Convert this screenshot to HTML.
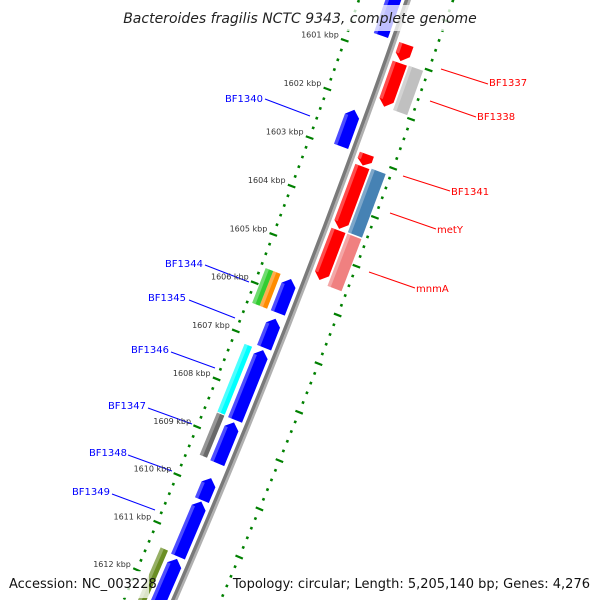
<!DOCTYPE html>
<html><head><meta charset="utf-8">
<style>
html,body{margin:0;padding:0;background:#fff;width:600px;height:600px;overflow:hidden;}
svg{display:block;font-family:"DejaVu Sans","Liberation Sans",sans-serif;overflow:hidden;}
</style></head>
<body>
<svg id="chart" width="600" height="600" viewBox="0 0 600 600" xmlns="http://www.w3.org/2000/svg">
<g id="tracks"></g>
<g id="backbone"></g>
<g id="features"></g>
<g id="labels">
  <line x1="441" y1="69" x2="488" y2="84" stroke="#f00" stroke-width="1"/>
  <text x="489" y="86" font-size="10" fill="#f00">BF1337</text>
  <line x1="430" y1="101" x2="476" y2="117" stroke="#f00" stroke-width="1"/>
  <text x="477" y="120" font-size="10" fill="#f00">BF1338</text>
  <line x1="403" y1="176" x2="450" y2="191" stroke="#f00" stroke-width="1"/>
  <text x="451" y="195" font-size="10" fill="#f00">BF1341</text>
  <line x1="390" y1="213" x2="436" y2="229" stroke="#f00" stroke-width="1"/>
  <text x="437" y="233" font-size="10" fill="#f00">metY</text>
  <line x1="369" y1="272" x2="415" y2="288" stroke="#f00" stroke-width="1"/>
  <text x="416" y="292" font-size="10" fill="#f00">mnmA</text>

  <line x1="265" y1="99" x2="310" y2="116" stroke="#00f" stroke-width="1"/>
  <text x="263" y="102" font-size="10" fill="#00f" text-anchor="end">BF1340</text>
  <line x1="205" y1="265" x2="249" y2="282" stroke="#00f" stroke-width="1"/>
  <text x="203" y="267" font-size="10" fill="#00f" text-anchor="end">BF1344</text>
  <line x1="189" y1="300" x2="235" y2="318" stroke="#00f" stroke-width="1"/>
  <text x="186" y="301" font-size="10" fill="#00f" text-anchor="end">BF1345</text>
  <line x1="171" y1="352" x2="215" y2="368" stroke="#00f" stroke-width="1"/>
  <text x="169" y="353" font-size="10" fill="#00f" text-anchor="end">BF1346</text>
  <line x1="148" y1="408" x2="192" y2="424" stroke="#00f" stroke-width="1"/>
  <text x="146" y="409" font-size="10" fill="#00f" text-anchor="end">BF1347</text>
  <line x1="128" y1="455" x2="172" y2="471" stroke="#00f" stroke-width="1"/>
  <text x="127" y="456" font-size="10" fill="#00f" text-anchor="end">BF1348</text>
  <line x1="112" y1="494" x2="155" y2="510" stroke="#00f" stroke-width="1"/>
  <text x="110" y="495" font-size="10" fill="#00f" text-anchor="end">BF1349</text>
</g>
<g id="ticklabels"></g>
<rect x="124" y="5" width="352" height="26" fill="#fff" fill-opacity="0.75"/>
<text x="300" y="23" font-size="14" font-style="italic" text-anchor="middle" fill="#222">Bacteroides fragilis NCTC 9343, complete genome</text>
<rect x="4" y="571" width="145" height="27" fill="#fff" fill-opacity="0.75"/>
<text x="9" y="588" font-size="13" fill="#111">Accession: NC_003228</text>
<rect x="256" y="571" width="340" height="27" fill="#fff" fill-opacity="0.75"/>
<text x="590" y="588" font-size="13" fill="#111" text-anchor="end">Topology: circular; Length: 5,205,140 bp; Genes: 4,276</text>
</svg>
<script>
// ---- data ----
const featStart  = [1600.68,1601.06,1601.05,1602.92,1603.17,1603.15,1604.48,1604.48, 1599.6,1602.2,1605.68,1605.66,1605.66,1606.5,1607.15,1607.17,1608.65,1608.6,1609.81,1610.3,1611.5,1611.42];
const featEnd    = [1601.02,1601.95,1601.95,1603.15,1604.45,1604.45,1605.5,1605.55, 1600.68,1602.95,1606.38,1606.38,1606.38,1607.1,1608.6,1608.58,1609.5,1609.48,1610.27,1611.45,1612.7,1612.7];
const featLane   = [1,1,2,1,1,2,1,2, 1,1,1,2,3,1,1,2,1,2,1,1,1,2];
const featStrand = [1,1,1,1,1,1,1,1, -1,-1,-1,-1,-1,-1,-1,-1,-1,-1,-1,-1,-1,-1];
const featArrow  = [1,1,0,1,1,0,1,0, 1,1,1,0,0,1,1,0,1,0,1,1,1,0];
const featColor  = ["#ff0000","#ff0000","#c0c0c0","#ff0000","#ff0000","#4682b4","#ff0000","#f08080",
                    "#0000ff","#0000ff","#0000ff","#ff8c00","#32cd32","#0000ff","#0000ff","#00ffff","#0000ff","#696969","#0000ff","#0000ff","#0000ff","#6b8e23"];
const tickKbp = [1601,1602,1603,1604,1605,1606,1607,1608,1609,1610,1611,1612];

// ---- scales ----
const CX=-7626, CY=-2783, R0=8501, TH0=19.855, DTH=0.3505;
function pt(k,off){
  const th=(TH0+(k-1602)*DTH)*Math.PI/180, r=R0+off;
  return [CX+r*Math.cos(th), CY+r*Math.sin(th)];
}
function poly(list){ return list.map(p=>{const q=pt(p[0],p[1]);return q[0].toFixed(1)+","+q[1].toFixed(1);}).join(" "); }
const NS="http://www.w3.org/2000/svg";
function mk(tag,attrs,parent){const e=document.createElementNS(NS,tag);for(const a in attrs)e.setAttribute(a,attrs[a]);parent.appendChild(e);return e;}
const laneOff={"1":[7,22],"2":[24,39],"-1":[-20,-5],"-2":[-32,-24],"-3":[-40,-32]};

// tracks
const tracks=document.getElementById('tracks');
[[-45,'left-tick-track'],[44,'right-tick-track']].forEach(([off,nm])=>{
  for(let i=0;i<=72;i++){
    const k=1599.6+i*0.2, ki=Math.round(k*10)/10;
    const major=Math.abs(ki-Math.round(ki))<1e-6;
    const h=major?4:1.3;
    const a=pt(ki,off-h), b=pt(ki,off+h);
    const l=mk('line',{x1:a[0],y1:a[1],x2:b[0],y2:b[1],stroke:'#008000','stroke-width':major?2.2:2.6},tracks);
    
    
  }
});

// backbone
const bb=document.getElementById('backbone');
const bs=[],bsh=[];
for(let k=1599.5;k<=1612.5;k+=0.5){bs.push(pt(k,0).map(v=>v.toFixed(1)).join(","));bsh.push(pt(k,3).map(v=>v.toFixed(1)).join(","));}
const sh=mk('polyline',{points:bsh.join(" "),fill:'none',stroke:'#b0b0b0','stroke-width':2.5},bb);


const ln=mk('polyline',{points:bs.join(" "),fill:'none',stroke:'#7a7a7a','stroke-width':3.5},bb);



// features
const fg=document.getElementById('features');
for(let i=0;i<featStart.length;i++){
  const s=featStrand[i], o=laneOff[String(s*featLane[i])];
  const o1=o[0],o2=o[1],om=(o1+o2)/2;
  const k1=featStart[i],k2=featEnd[i];
  const head=Math.min(0.13,(k2-k1)*0.45);
  let pts;
  if(!featArrow[i]) pts=[[k1,o1],[k1,o2],[k2,o2],[k2,o1]];
  else if(s>0) pts=[[k1,o1],[k1,o2],[k2-head,o2],[k2,om],[k2-head,o1]];
  else pts=[[k2,o1],[k2,o2],[k1+head,o2],[k1,om],[k1+head,o1]];
  const p=mk('polygon',{points:poly(pts),fill:featColor[i]},fg);
  
  
  const hl=o1, hw=o1+3.5;
  const a1=k1+(s<0&&featArrow[i]?head:0), a2=k2-(s>0&&featArrow[i]?head:0);
  const hp=mk('polygon',{points:poly([[a1,hl],[a1,hw],[a2,hw],[a2,hl]]),fill:'#fff','fill-opacity':0.3},fg);
  
  
}

// tick labels
const tl=document.getElementById('ticklabels');
tickKbp.forEach(k=>{
  const q=pt(k,-45);
  const t=mk('text',{x:(q[0]-6).toFixed(1),y:(q[1]-3).toFixed(1),'font-size':8,'text-anchor':'end',fill:'#333'},tl);
  t.textContent=k+" kbp";
  
  
});
</script>
</body></html>
